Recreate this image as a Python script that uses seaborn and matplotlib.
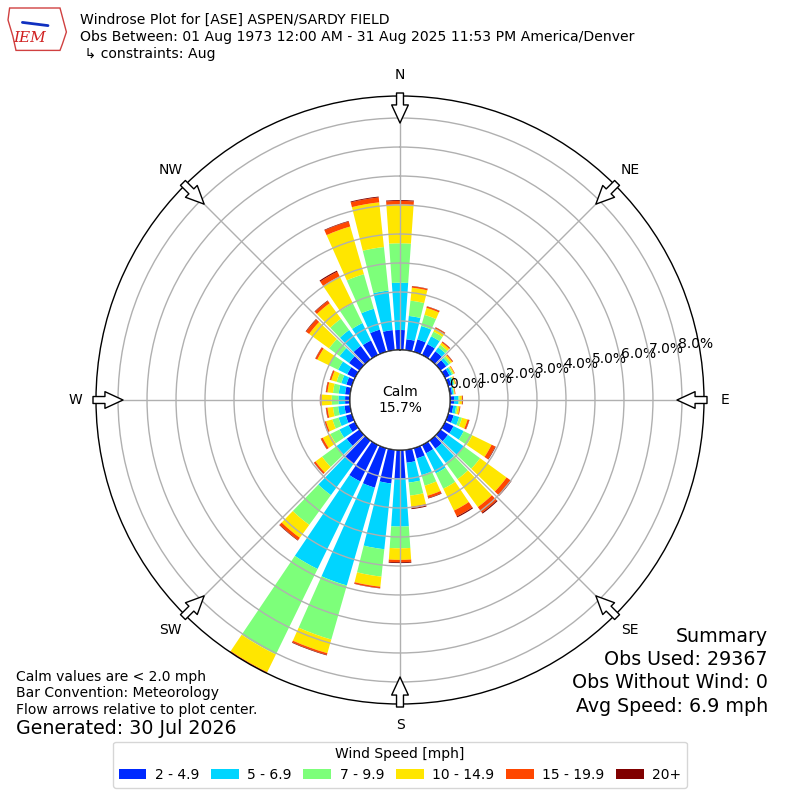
import numpy as np
import matplotlib
matplotlib.use("Agg")
import matplotlib.pyplot as plt
import seaborn as sns
from matplotlib.patches import Patch, Circle, Polygon

# ---------------- data ----------------
directions = list(range(0, 360, 10))
speed_labels = ["2 - 4.9", "5 - 6.9", "7 - 9.9", "10 - 14.9", "15 - 19.9", "20+"]
pct_2_5 = [0.69, 0.38, 0.45, 0.42, 0.35, 0.25, 0.18, 0.12, 0.08, 0.14, 0.12, 0.20,
           0.33, 0.32, 0.35, 0.32, 0.37, 0.45, 0.98, 1.17, 1.42, 1.40, 1.00, 0.55,
           0.25, 0.22, 0.20, 0.17, 0.18, 0.20, 0.30, 0.45, 0.58, 0.56, 0.80, 0.70]
pct_5_7 = [1.63, 0.81, 0.48, 0.30, 0.17, 0.11, 0.09, 0.08, 0.05, 0.15, 0.10, 0.20,
           0.39, 0.68, 0.61, 0.77, 0.60, 0.69, 1.66, 2.28, 3.51, 3.36, 1.33, 0.43,
           0.35, 0.26, 0.22, 0.23, 0.22, 0.18, 0.35, 0.40, 0.68, 0.67, 0.75, 1.37]
pct_7_10 = [1.36, 0.53, 0.40, 0.18, 0.11, 0.08, 0.05, 0.04, 0.03, 0.04, 0.05, 0.10,
            0.33, 0.69, 0.69, 0.59, 0.38, 0.45, 0.75, 0.95, 1.94, 3.28, 1.27, 0.62,
            0.35, 0.22, 0.18, 0.23, 0.20, 0.17, 0.35, 0.45, 0.48, 0.75, 1.24, 1.51]
pct_10_15 = [1.34, 0.45, 0.25, 0.12, 0.09, 0.06, 0.04, 0.03, 0.02, 0.08, 0.07, 0.20,
             0.74, 1.13, 1.19, 0.84, 0.36, 0.38, 0.40, 0.35, 0.49, 0.68, 0.55, 0.28,
             0.29, 0.23, 0.19, 0.35, 0.19, 0.19, 0.45, 0.85, 0.66, 1.04, 1.71, 1.55]
pct_15_20 = [0.12, 0.05, 0.05, 0.04, 0.04, 0.03, 0.02, 0.02, 0.02, 0.03, 0.03, 0.06,
             0.14, 0.18, 0.24, 0.22, 0.08, 0.06, 0.08, 0.05, 0.06, 0.03, 0.10, 0.06,
             0.07, 0.07, 0.05, 0.05, 0.05, 0.05, 0.07, 0.13, 0.10, 0.18, 0.18, 0.17]
pct_20p = [0.03, 0.01, 0.01, 0.01, 0.01, 0.01, 0.00, 0.00, 0.00, 0.01, 0.00, 0.01,
           0.02, 0.03, 0.04, 0.04, 0.02, 0.03, 0.03, 0.01, 0.02, 0.01, 0.02, 0.01,
           0.01, 0.01, 0.01, 0.01, 0.01, 0.01, 0.01, 0.02, 0.02, 0.04, 0.02, 0.03]
calm_pct = 15.7
ring_values = [0, 1, 2, 3, 4, 5, 6, 7, 8]
compass_labels = ["N", "NE", "E", "SE", "S", "SW", "W", "NW"]
compass_angles = [0, 45, 90, 135, 180, 225, 270, 315]

title_lines = ["Windrose Plot for [ASE] ASPEN/SARDY FIELD",
               "Obs Between: 01 Aug 1973 12:00 AM - 31 Aug 2025 11:53 PM America/Denver",
               " \u21b3 constraints: Aug"]
left_notes = ["Calm values are < 2.0 mph", "Bar Convention: Meteorology",
              "Flow arrows relative to plot center."]
generated = "Generated: 30 Jul 2026"
summary_lines = ["Summary", "Obs Used: 29367", "Obs Without Wind: 0", "Avg Speed: 6.9 mph"]

# ---------------- style ----------------
sns.set_style("white")
plt.rcParams["font.family"] = ["DejaVu Sans"]
plt.rcParams["text.color"] = "black"
plt.rcParams["axes.labelcolor"] = "black"
plt.rcParams["xtick.color"] = "black"
plt.rcParams["ytick.color"] = "black"

series = [pct_2_5, pct_5_7, pct_7_10, pct_10_15, pct_15_20, pct_20p]
cmap = plt.get_cmap("jet")
colors = [cmap(v) for v in np.linspace(0, 1, 7)[1:]]

fig = plt.figure(figsize=(8, 8), dpi=100)
ax = fig.add_axes([0.12, 0.12, 0.76, 0.76], projection="polar")
ax.set_theta_zero_location("N")
ax.set_theta_direction(-1)

theta = np.radians(directions)
width = np.radians(10) * 0.8
bottom = np.zeros(len(directions))
for vals, col in zip(series, colors):
    v = np.array(vals)
    ax.bar(theta, v, width=width, bottom=bottom, color=col, linewidth=0, zorder=1)
    bottom = bottom + v

rmax = bottom.max()
ax.set_ylim(0, rmax)
ax.set_rorigin(-rmax * 50.0 / 254.0)

ax.set_axisbelow(False)
ax.set_xticks(np.radians(compass_angles))
ax.set_xticklabels([])
ax.set_yticks(ring_values)
ax.set_yticklabels([f"{v:.1f}%" for v in ring_values], fontsize=10, color="black")
ax.set_rlabel_position(80)
ax.grid(True, color="#b0b0b0", linewidth=1)
ax.spines["polar"].set_color("black")
ax.spines["polar"].set_linewidth(1)
ax.tick_params(axis="y", pad=0)

# calm circle
calm = Circle((0.5, 0.5), 50.0 / 608.0, transform=ax.transAxes, facecolor="white",
              edgecolor="black", linewidth=1, zorder=3)
ax.add_patch(calm)
ax.text(0.5, 0.5, f"Calm\n{calm_pct:.1f}%", transform=ax.transAxes, ha="center",
        va="center", fontsize=10, zorder=4)

# compass labels and inward arrows
for lab, ang in zip(compass_labels, compass_angles):
    a = np.radians(ang)
    s, c = np.sin(a), np.cos(a)
    rl = 325.0 / 608.0
    ax.text(0.5 + rl * s, 0.5 + rl * c, lab, transform=ax.transAxes, ha="center",
            va="center", fontsize=10, clip_on=False)
    r_tail = 307.0 / 608.0
    r_tip = 277.0 / 608.0
    ax.annotate("", xy=(0.5 + r_tip * s, 0.5 + r_tip * c),
                xytext=(0.5 + r_tail * s, 0.5 + r_tail * c),
                xycoords="axes fraction", textcoords="axes fraction",
                arrowprops=dict(arrowstyle="simple,head_length=0.65,head_width=0.6,tail_width=0.25",
                                fc="white", ec="black", lw=1, mutation_scale=20,
                                shrinkA=0, shrinkB=0),
                annotation_clip=False, zorder=6)

# titles
for i, line in enumerate(title_lines):
    fig.text(80 / 800, 1 - (20 + 17 * i) / 800, line, ha="left", va="center", fontsize=10.1)

# IEM logo (simplified)
logo = Polygon([(0.012, 0.990), (0.075, 0.990), (0.079, 0.975), (0.083, 0.960),
                (0.078, 0.945), (0.075, 0.937), (0.020, 0.937), (0.016, 0.955),
                (0.010, 0.975)], closed=True, transform=fig.transFigure,
               facecolor="white", edgecolor="#d04040", linewidth=1)
fig.patches.append(logo)
fig.text(0.037, 0.952, "IEM", color="#d02020", fontsize=11, family="DejaVu Serif",
         style="italic", ha="center", va="center")
fig.lines.append(plt.Line2D([0.028, 0.06], [0.972, 0.968], transform=fig.transFigure,
                            color="#1030c0", linewidth=2))

# bottom-left notes
for i, line in enumerate(left_notes):
    fig.text(16 / 800, 1 - (677 + 16.5 * i) / 800, line, ha="left", va="center", fontsize=10)
fig.text(16 / 800, 1 - 729 / 800, generated, ha="left", va="center", fontsize=13.7)

# summary
for i, line in enumerate(summary_lines):
    fig.text(768 / 800, 1 - (636 + 23.5 * i) / 800, line, ha="right", va="center", fontsize=13.7)

# legend
handles = [Patch(facecolor=c, edgecolor="none", label=l) for c, l in zip(colors, speed_labels)]
leg = fig.legend(handles=handles, loc="lower center", bbox_to_anchor=(0.5, 0.0155), ncol=6,
                 title="Wind Speed [mph]", fontsize=10, title_fontsize=10, frameon=True,
                 handlelength=2.0, handleheight=0.7, columnspacing=0.85,
                 handletextpad=0.6, borderaxespad=0)
leg.get_frame().set_edgecolor("#cccccc")

fig.savefig("out.png", dpi=100)
